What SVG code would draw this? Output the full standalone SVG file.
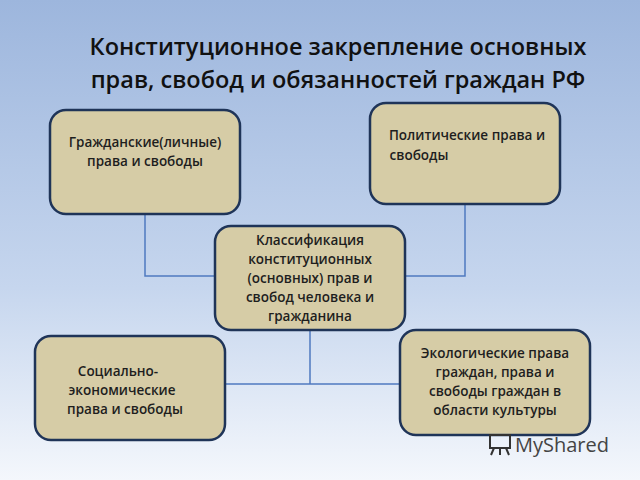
<svg xmlns="http://www.w3.org/2000/svg" width="640" height="480" viewBox="0 0 640 480">
<defs>
<linearGradient id="bg" x1="0" y1="0" x2="0" y2="1">
<stop offset="0" stop-color="#9db6dd"/><stop offset="0.6" stop-color="#c6d6ee"/><stop offset="1" stop-color="#f4f7fc"/>
</linearGradient>
</defs>
<style>
.box{fill:#d6cca6;stroke:#1f3458;stroke-width:2.5}
.t{font-family:"Open Sans","DejaVu Sans",sans-serif;font-size:13.5px;font-weight:600;fill:#1e1e1e;text-anchor:middle}
.title{font-family:"Open Sans","DejaVu Sans",sans-serif;font-size:23.5px;font-weight:600;fill:#111;text-anchor:middle}
.c{fill:none;stroke:#4f7ac0;stroke-width:1.5}
</style>
<rect width="640" height="480" fill="url(#bg)"/>
<text class="title" x="338" y="55">Конституционное закрепление основных</text>
<text class="title" x="338" y="88">прав, свобод и обязанностей граждан РФ</text>
<g id="connectors">
<path class="c" d="M145 214V276H215"/>
<path class="c" d="M465 204V276H405"/>
<path class="c" d="M310 330V384M225 384H400"/>
</g>
<g id="n1"><rect class="box" x="50" y="110" width="190" height="104" rx="16"/>
<text class="t" x="145" y="147">Гражданские(личные)</text><text class="t" x="145" y="166">права и свободы</text></g>
<g id="n2"><rect class="box" x="370" y="103" width="190" height="101" rx="16"/>
<text class="t" x="467" y="140">Политические права и</text><text class="t" x="419" y="160">свободы</text></g>
<g id="n3"><rect class="box" x="215" y="226" width="190" height="104" rx="16"/>
<text class="t" x="310" y="245">Классификация</text><text class="t" x="310" y="264">конституционных</text><text class="t" x="310" y="283">(основных) прав и</text><text class="t" x="310" y="302">свобод человека и</text><text class="t" x="310" y="321">гражданина</text></g>
<g id="n4"><rect class="box" x="35" y="336" width="190" height="104" rx="16"/>
<text class="t" x="118" y="376">Социально-</text><text class="t" x="122" y="395">экономические</text><text class="t" x="125" y="414">права и свободы</text></g>
<g id="n5"><rect class="box" x="400" y="330" width="190" height="105" rx="16"/>
<text class="t" x="495" y="358">Экологические права</text><text class="t" x="495" y="377">граждан, права и</text><text class="t" x="495" y="396">свободы граждан в</text><text class="t" x="495" y="415">области культуры</text></g>
<text x="515" y="452" font-family="Open Sans, DejaVu Sans, sans-serif" font-size="20" fill="#444">MyShared</text>
<g fill="none" stroke="#333" stroke-width="2"><rect x="490" y="435" width="20" height="13"/><path d="M494 448l-3 7M506 448l3 7M500 448v7"/></g>
</svg>
